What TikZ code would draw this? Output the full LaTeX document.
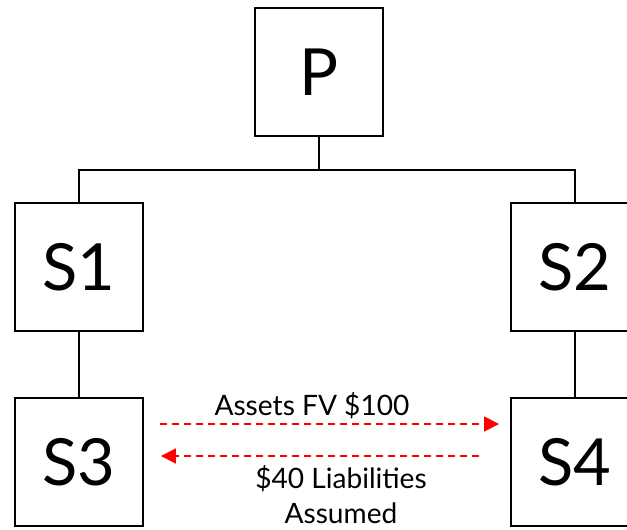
\documentclass[tikz,border=0pt]{standalone}
\usepackage{fontspec}
\setmainfont{Lato}
\usetikzlibrary{arrows.meta}
\begin{document}
\begin{tikzpicture}[x=0.02cm, y=-0.02cm, >={Triangle[length=0.3cm,width=0.3cm]}]
      \tikzset{entity/.style={draw, line width=1.1pt, minimum width=2.56cm, minimum height=2.56cm, inner sep=0pt, font=\fontsize{37}{40}\selectfont},
               link/.style={line width=0.8pt},
               xfer/.style={->, red, line width=1pt, dash pattern=on 0.14cm off 0.1cm},
               tag/.style={font=\fontsize{16}{20}\selectfont, align=center, inner sep=0pt}}
      \clip (0,0) rectangle (627,529);
      \node[entity] (P) at (319,72) {P};
      \node[entity] (S1) at (79,267) {S1};
      \node[entity] (S2) at (575,267) {S2};
      \node[entity] (S3) at (79,462) {S3};
      \node[entity] (S4) at (575,462) {S4};
      \coordinate (fork) at (319,170);
      \draw[link] (P.south) -- (fork);
      \draw[link] (fork) -| (S1.north);
      \draw[link] (fork) -| (S2.north);
      \draw[link] (S1) -- (S3);
      \draw[link] (S2) -- (S4);
      \draw[xfer, shorten <=0.32cm, shorten >=0.22cm] ([yshift=0.76cm]S3.east) -- ([yshift=0.76cm]S4.west);
      \draw[xfer, shorten <=0.62cm, shorten >=0.34cm] ([yshift=0.12cm]S4.west) -- ([yshift=0.12cm]S3.east);
      \node[tag] (assets) at (312,406) {Assets FV \$100};
      \node[tag] (liab) at (341,495) {\$40 Liabilities\\Assumed};
    \end{tikzpicture}
\end{document}
